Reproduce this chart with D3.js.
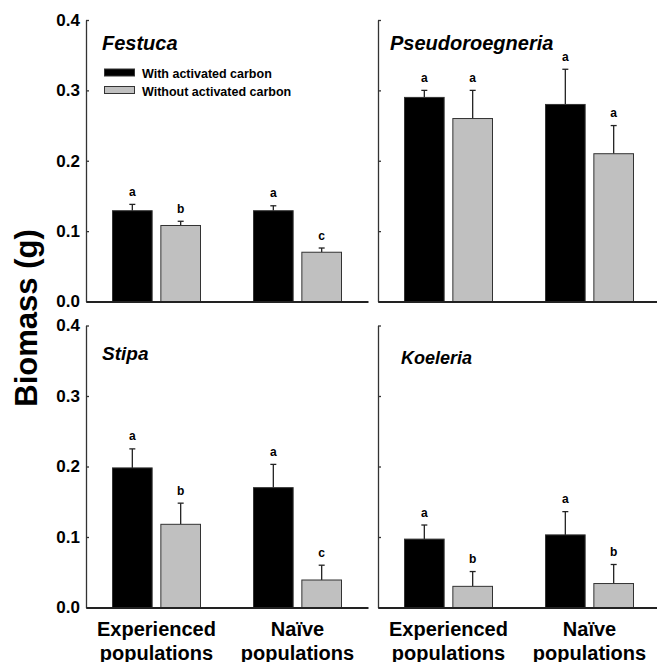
<!DOCTYPE html>
<html>
<head>
<meta charset="utf-8">
<script src="https://cdn.jsdelivr.net/npm/d3@7"></script>
<style>
  body { margin: 0; background: #fff; }
  svg { display: block; font-family: "Liberation Sans", Arial, sans-serif; }
</style>
</head>
<body>
<svg id="chart"></svg>
<script>
// data
const species = ["Festuca", "Pseudoroegneria", "Stipa", "Koeleria"];
const groups = ["Experienced populations", "Naïve populations"];
const series = ["With activated carbon", "Without activated carbon"];
const withCarbon = [[0.129, 0.129], [0.290, 0.280], [0.198, 0.170], [0.097, 0.103]];
const withCarbonErr = [[0.009, 0.007], [0.010, 0.050], [0.027, 0.033], [0.020, 0.033]];
const withoutCarbon = [[0.108, 0.070], [0.260, 0.210], [0.118, 0.039], [0.030, 0.034]];
const withoutCarbonErr = [[0.006, 0.006], [0.040, 0.040], [0.030, 0.021], [0.021, 0.027]];
const withLetters = [["a", "a"], ["a", "a"], ["a", "a"], ["a", "a"]];
const withoutLetters = [["b", "c"], ["a", "a"], ["b", "c"], ["b", "b"]];
const yTicks = [0, 0.1, 0.2, 0.3, 0.4];

const SIZE = { width: 657, height: 662 };
const COLORS = ["#000000", "#c0c0c0"];

// panel layout: left edge of axis, top/bottom of plot, title placement
const PANELS = [
  { x0: 86, top: 20, bottom: 301.5, tx: 16, ty: 29.5, fs: 20, labels: true },
  { x0: 378, top: 20, bottom: 301.5, tx: 12, ty: 30, fs: 20, labels: false },
  { x0: 86, top: 325.5, bottom: 607.5, tx: 16, ty: 34, fs: 19, labels: true },
  { x0: 378, top: 325.5, bottom: 607.5, tx: 23, ty: 38, fs: 18, labels: false },
];
const PANEL_W = 282;

const svg = d3.select("svg#chart").attr("width", SIZE.width).attr("height", SIZE.height);

const seriesX = d3.scaleBand().domain(series).range([-44, 44]).paddingInner(0.18);

species.forEach((sp, i) => {
  const p = PANELS[i];
  const x = d3.scalePoint().domain(groups).range([p.x0, p.x0 + PANEL_W]).padding(0.5);
  const y = d3.scaleLinear().domain([0, 0.4]).range([p.bottom, p.top]);
  const g = svg.append("g").attr("class", "panel");

  const rows = groups.map((grp, j) => [
    { grp, s: series[0], v: withCarbon[i][j], e: withCarbonErr[i][j], l: withLetters[i][j], c: COLORS[0] },
    { grp, s: series[1], v: withoutCarbon[i][j], e: withoutCarbonErr[i][j], l: withoutLetters[i][j], c: COLORS[1] },
  ]).flat();

  // error bars (upper only)
  const eb = g.selectAll(".err").data(rows).enter().append("g").attr("class", "err")
    .attr("stroke", "#222").attr("stroke-width", 1.3);
  eb.append("line")
    .attr("x1", d => x(d.grp) + seriesX(d.s) + seriesX.bandwidth() / 2)
    .attr("x2", d => x(d.grp) + seriesX(d.s) + seriesX.bandwidth() / 2)
    .attr("y1", d => y(d.v))
    .attr("y2", d => y(d.v + d.e));
  eb.append("line")
    .attr("x1", d => x(d.grp) + seriesX(d.s) + seriesX.bandwidth() / 2 - 3)
    .attr("x2", d => x(d.grp) + seriesX(d.s) + seriesX.bandwidth() / 2 + 3)
    .attr("y1", d => y(d.v + d.e))
    .attr("y2", d => y(d.v + d.e));

  g.selectAll(".bar").data(rows).enter().append("rect").attr("class", "bar")
    .attr("x", d => x(d.grp) + seriesX(d.s))
    .attr("width", seriesX.bandwidth())
    .attr("y", d => y(d.v))
    .attr("height", d => y(0) - y(d.v))
    .attr("fill", d => d.c)
    .attr("stroke", "#333")
    .attr("stroke-width", 1);

  g.selectAll(".letter").data(rows).enter().append("text").attr("class", "letter")
    .attr("x", d => x(d.grp) + seriesX(d.s) + seriesX.bandwidth() / 2)
    .attr("y", d => y(d.v + d.e) - 8.5)
    .attr("text-anchor", "middle")
    .attr("font-size", 12).attr("font-weight", "bold")
    .text(d => d.l);

  // axes
  const yAxis = d3.axisLeft(y).tickValues(yTicks).tickSizeInner(-3).tickSizeOuter(0).tickPadding(6)
    .tickFormat(p.labels ? d3.format(".1f") : "");
  const yG = g.append("g").attr("transform", `translate(${p.x0},0)`).call(yAxis);
  yG.select(".domain").attr("stroke", "#333").attr("stroke-width", 1.3);
  yG.selectAll(".tick line").attr("stroke", "#333").attr("stroke-width", 1.3);
  yG.selectAll(".tick text").attr("font-size", 17).attr("font-weight", "bold")
    .attr("font-family", "Liberation Sans, Arial, sans-serif").attr("fill", "#000");

  const xLine = d3.scaleLinear().range([p.x0, p.x0 + PANEL_W]);
  const xG = g.append("g").attr("transform", `translate(0,${p.bottom})`)
    .call(d3.axisBottom(xLine).tickValues([]).tickSizeOuter(0));
  xG.select(".domain").attr("stroke", "#222").attr("stroke-width", 2);

  g.append("text")
    .attr("x", p.x0 + p.tx).attr("y", p.top + p.ty)
    .attr("font-size", p.fs).attr("font-weight", "bold").attr("font-style", "italic")
    .text(sp);

  // category labels under the bottom row
  if (i >= 2) {
    groups.forEach(grp => {
      const words = grp.split(" ");
      words.forEach((w, k) => {
        g.append("text")
          .attr("x", x(grp)).attr("y", 636 + k * 23.5)
          .attr("text-anchor", "middle")
          .attr("font-size", 20).attr("font-weight", "bold")
          .text(w);
      });
    });
  }

  // legend in first panel
  if (i === 0) {
    const leg = g.append("g").attr("transform", `translate(${p.x0 + 18.5},69)`);
    series.forEach((s, k) => {
      leg.append("rect").attr("x", 0).attr("y", k * 17.5).attr("width", 30).attr("height", 7)
        .attr("fill", COLORS[k]).attr("stroke", "#333").attr("stroke-width", 1);
      leg.append("text").attr("x", 37.5).attr("y", k * 17.5 + 9)
        .attr("font-size", 12.5).attr("font-weight", "bold").text(s);
    });
  }
});

svg.append("text")
  .attr("transform", "translate(37,318) rotate(-90)")
  .attr("text-anchor", "middle")
  .attr("font-size", 31).attr("font-weight", "bold")
  .text("Biomass (g)");
</script>
</body>
</html>
